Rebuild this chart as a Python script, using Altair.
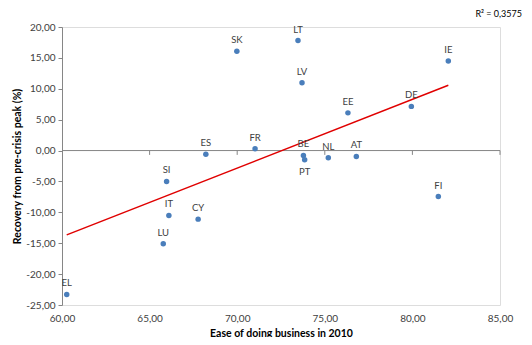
import altair as alt
import pandas as pd

countries = ["EL", "LU", "SI", "IT", "CY", "ES", "SK", "FR", "LT", "LV",
             "BE", "PT", "NL", "AT", "EE", "DE", "IE", "FI"]
ease = [60.27, 65.78, 65.97, 66.10, 67.77, 68.21, 69.98, 71.02, 73.47, 73.70,
        73.78, 73.85, 75.20, 76.80, 76.32, 79.94, 82.05, 81.48]
recovery = [-23.3, -15.1, -5.0, -10.5, -11.1, -0.6, 16.06, 0.28, 17.8, 10.97,
            -0.8, -1.5, -1.18, -0.96, 6.1, 7.15, 14.5, -7.45]
x_ticks = [60, 65, 70, 75, 80, 85]
y_ticks = [-25, -20, -15, -10, -5, 0, 5, 10, 15, 20]
r2_text = "R² = 0,3575"

df = pd.DataFrame({"country": countries, "ease": ease, "recovery": recovery})

FONT = "Lato"
GRAY = "#868686"
LABEL = "#404040"

fmt = "(datum.value < 0 ? '-' : '') + replace(format(abs(datum.value), '.2f'), '.', ',')"

X = alt.X("ease:Q",
          scale=alt.Scale(domain=[x_ticks[0], x_ticks[-1]], nice=False, zero=False),
          axis=alt.Axis(values=x_ticks, labelExpr=fmt, domain=False, ticks=False, grid=False,
                        labelFlush=False, labelOverlap=False,
                        title="Ease of doing business in 2010", labelPadding=8, titlePadding=5,
                        labelFontSize=10, labelColor=LABEL, titleFontSize=10.5,
                        titleFontWeight="bold", titleColor="#000000", labelFont=FONT, titleFont=FONT))
Y = alt.Y("recovery:Q",
          scale=alt.Scale(domain=[y_ticks[0], y_ticks[-1]], nice=False, zero=False),
          axis=alt.Axis(values=y_ticks, labelExpr=fmt, domainColor=GRAY, tickColor=GRAY, tickSize=4,
                        labelFlush=False, labelOverlap=False,
                        grid=False, title="Recovery from pre-crisis peak (%)", labelPadding=3,
                        titlePadding=3, labelFontSize=10, labelColor=LABEL, titleFontSize=10.5,
                        titleFontWeight="bold", titleColor="#000000", labelFont=FONT, titleFont=FONT))

zero_df = pd.DataFrame({"ease": [x_ticks[0]], "ease2": [x_ticks[-1]], "recovery": [0]})
zero_line = alt.Chart(zero_df).mark_rule(color=GRAY, strokeWidth=1).encode(
    x=X, x2="ease2:Q", y=Y)

tick_df = pd.DataFrame({"ease": x_ticks[1:], "recovery": [0] * (len(x_ticks) - 1),
                        "low": [-0.7] * (len(x_ticks) - 1)})
tick_marks = alt.Chart(tick_df).mark_rule(color=GRAY, strokeWidth=1).encode(
    x=X, y=Y, y2="low:Q")

trend = alt.Chart(df).transform_regression("ease", "recovery").mark_line(
    color="#E00000", strokeWidth=1.5).encode(x=X, y=Y)

points = alt.Chart(df).mark_circle(size=30, color="#4A7EBB", opacity=1).encode(x=X, y=Y)

labels_above = alt.Chart(df).transform_filter("datum.country != 'PT'").mark_text(
    dy=-11, font=FONT, fontSize=9.5, color=LABEL).encode(x=X, y=Y, text="country:N")
labels_below = alt.Chart(df).transform_filter("datum.country == 'PT'").mark_text(
    dy=12, font=FONT, fontSize=9.5, color=LABEL).encode(x=X, y=Y, text="country:N")

r2 = alt.Chart(pd.DataFrame({"t": [r2_text]})).mark_text(
    align="right", baseline="middle", font=FONT, fontSize=9, color="#000000").encode(
    x=alt.value(460), y=alt.value(-13), text="t:N")

chart = alt.layer(zero_line, tick_marks, trend, points, labels_above, labels_below, r2).properties(
    width=438, height=278,
    autosize=alt.AutoSizeParams(type="none"),
    padding={"left": 54, "top": 19, "right": 24, "bottom": 32},
).configure_view(stroke=None).configure(font=FONT)

chart.save("out.html", embed_options={"renderer": "svg", "actions": False})
